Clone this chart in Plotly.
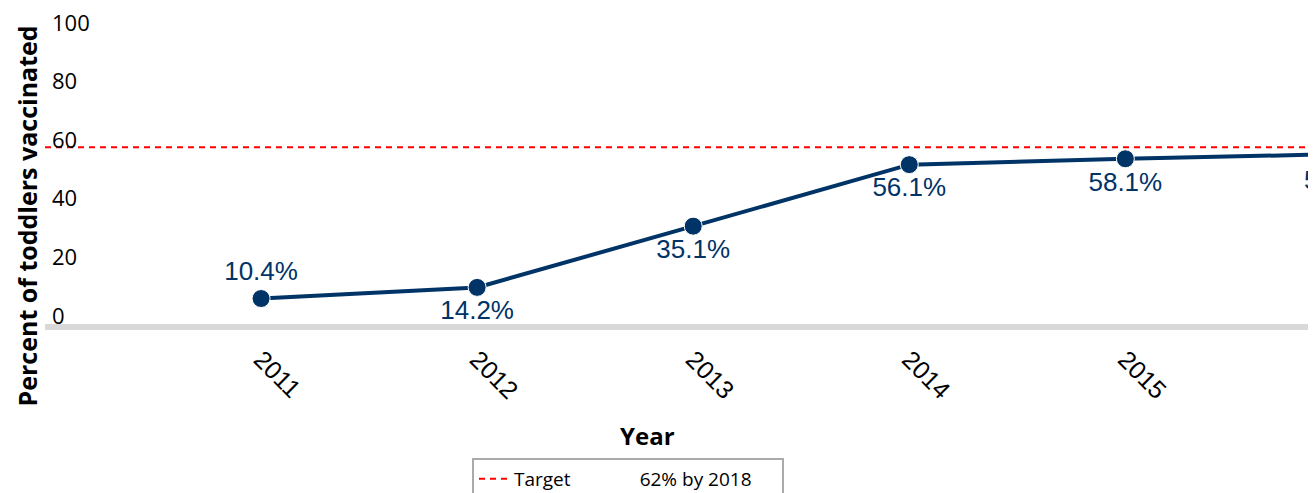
import plotly.graph_objects as go

years = [2011, 2012, 2013, 2014, 2015, 2016]
pct = [10.4, 14.2, 35.1, 56.1, 58.1, 59.7]
labels = ["10.4%", "14.2%", "35.1%", "56.1%", "58.1%", "59.7%"]
label_pos = ["top center", "bottom center", "bottom center", "bottom center", "bottom center", "bottom center"]
target_x = [2010, 2017]
target_y = [62, 62]
ytick_vals = [0, 20, 40, 60, 80, 100]
xtick_vals = [2011, 2012, 2013, 2014, 2015]

NAVY = "#003366"
# the page body adds an 8px offset; figure is sized to fit the window
OFF = 8
W, H = 1316 - OFF, 493 - OFF
# screen positions of plot area
S_LEFT, S_RIGHT, S_TOP, S_BOTTOM = 45, 1309, 36, 329
L = S_LEFT - OFF
R = W - (S_RIGHT - OFF)
T = S_TOP - OFF
B = H - (S_BOTTOM - OFF)
pw = S_RIGHT - S_LEFT
ph = S_BOTTOM - S_TOP
px_per_year = 216.07
x0 = 2010
x1 = x0 + pw / px_per_year


def px(sx):
    return (sx - S_LEFT) / pw


def py(sy):
    return (S_BOTTOM - sy) / ph


# points beyond the visible x-range are hidden by plotly; their labels go in annotations
visible = [yr <= x1 for yr in years]
trace_text = [lab if vis else "" for lab, vis in zip(labels, visible)]

fig = go.Figure()
fig.add_trace(go.Scatter(
    x=target_x, y=target_y, mode="lines",
    line=dict(color="#ff0000", width=2, dash="6px,5px"),
    name="Target" + "&nbsp;" * 14 + "62% by 2018" + "&nbsp;" * 5,
    hoverinfo="skip",
))
fig.add_trace(go.Scatter(
    x=years, y=pct, mode="lines+markers+text",
    line=dict(color=NAVY, width=4),
    marker=dict(color=NAVY, size=18, line=dict(color="white", width=1)),
    text=trace_text, textposition=label_pos,
    textfont=dict(family="Liberation Sans, Arial", size=26, color=NAVY),
    cliponaxis=False, showlegend=False,
))

fig.add_shape(type="line", xref="paper", yref="paper", x0=0, x1=1,
              y0=py(327), y1=py(327),
              line=dict(color="#d9d9d9", width=6), layer="below")

annotations = []
for yr, v, lab, vis in zip(years, pct, labels, visible):
    if not vis:
        annotations.append(dict(
            x=(yr - x0) / (x1 - x0), xref="paper", y=v, yref="y", text=lab,
            showarrow=False, xanchor="center", yanchor="middle", yshift=-26,
            font=dict(family="Liberation Sans, Arial", size=26, color=NAVY),
        ))
for v in ytick_vals:
    annotations.append(dict(
        x=0, xref="paper", y=v, yref="y", text=str(v), showarrow=False,
        xanchor="left", yanchor="middle", xshift=5, yshift=14.5,
        font=dict(family="Open Sans", size=22, color="#000000"),
    ))
annotations.append(dict(
    x=px(27), xref="paper", y=py(216.5), yref="paper",
    text="<b>Percent of toddlers vaccinated</b>", textangle=-90, showarrow=False,
    xanchor="center", yanchor="middle",
    font=dict(family="Open Sans", size=25, color="#000000"),
))
annotations.append(dict(
    x=px(647.5), xref="paper", y=py(435), yref="paper",
    text="<b>Year</b>", showarrow=False, xanchor="center", yanchor="middle",
    font=dict(family="Open Sans", size=24, color="#000000"),
))

fig.update_layout(
    width=W, height=H,
    margin=dict(l=L, r=R, t=T, b=B, autoexpand=False),
    paper_bgcolor="white", plot_bgcolor="white",
    xaxis=dict(range=[x0, x1], tickvals=xtick_vals, ticktext=[str(v) for v in xtick_vals],
               tickangle=45, showgrid=False, zeroline=False, showline=False,
               ticks="", ticklabelstandoff=10, automargin=False,
               tickfont=dict(family="Liberation Sans, Arial", size=25, color="#000000")),
    yaxis=dict(range=[0, 100], showgrid=False, zeroline=False, showline=False,
               showticklabels=False, ticks="", automargin=False),
    legend=dict(orientation="h", x=px(472), xanchor="left",
                y=py(458), yanchor="top",
                bordercolor="#aaaaaa", borderwidth=2, bgcolor="white",
                font=dict(family="Open Sans", size=19, color="#000000")),
    annotations=annotations,
    showlegend=True,
)

fig.write_html("out.html")
